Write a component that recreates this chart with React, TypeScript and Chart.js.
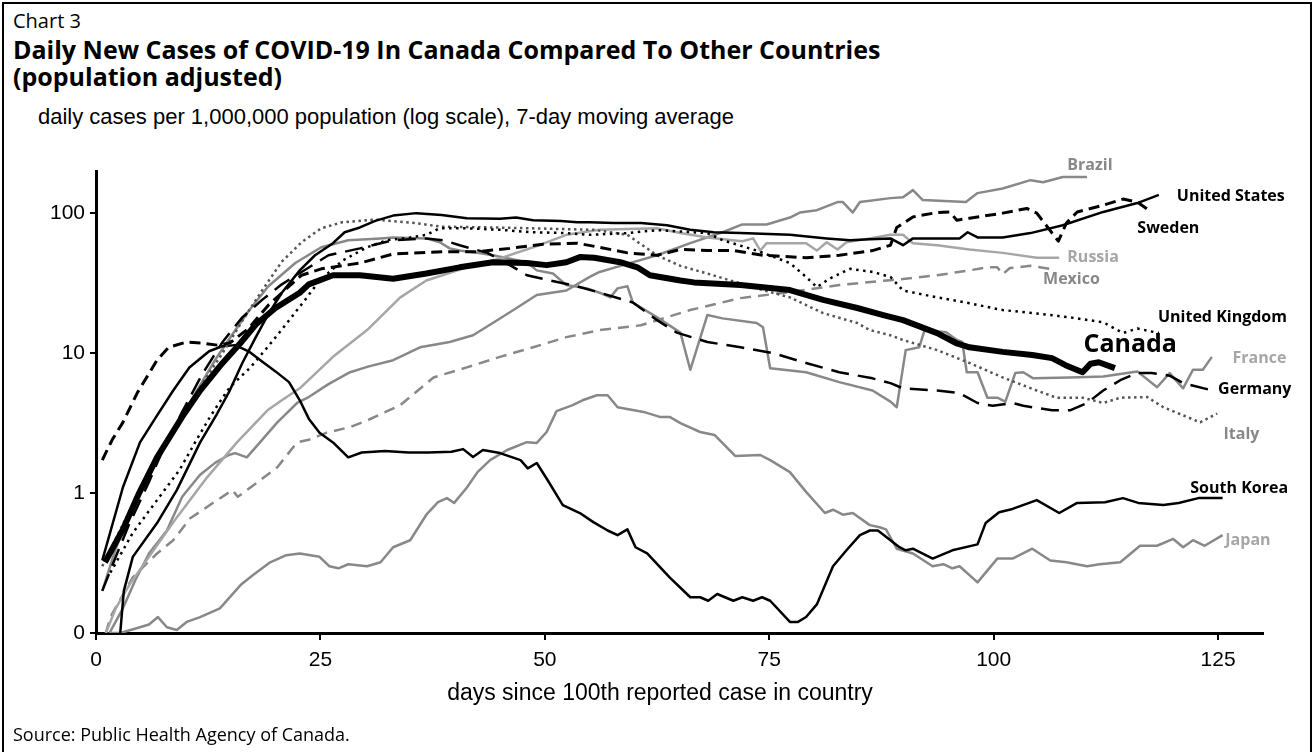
import React, { useEffect, useRef } from 'react';
import { Chart, registerables } from 'chart.js';

Chart.register(...registerables);

// ---- axes ----
const xTicks = [0, 25, 50, 75, 100, 125];
const yTicks = [0.1, 1, 10, 100];
const yTickLabels = ['0', '1', '10', '100'];

// ---- series: [days since 100th case, daily cases per 1,000,000] ----
const canada: [number, number][] = [
  [1.0, 0.32], [3.0, 0.55], [4.8, 1.0], [6.8, 1.8], [9.6, 3.5], [11.6, 5.4], [14.1, 8.5], [16.1, 11.8], [17.8, 16], [20.0, 21],
  [22.7, 27], [23.7, 31], [26.4, 36], [29.4, 36], [33.1, 34], [36.8, 37], [40.5, 41], [44.2, 44.6], [48.0, 44], [50.2, 42.5],
  [52.4, 44.6], [53.9, 48.5], [55.5, 48], [58.4, 44.6], [60.3, 41], [61.7, 36], [65.1, 33], [66.6, 32], [71.8, 30.6], [77.3, 28.2],
  [81.0, 24], [84.8, 21], [87.7, 18.7], [89.9, 17.2], [93.7, 13.9], [95.8, 11.8], [97.3, 11], [101.0, 10.2], [104.3, 9.7], [106.5, 9.2],
  [108.0, 8.2], [109.9, 7.3], [110.8, 8.4], [111.7, 8.6], [113.5, 7.8],
];

const unitedStates: [number, number][] = [
  [2.7, 0.1], [3.1, 0.2], [4.1, 0.35], [6.8, 0.61], [9.0, 1.05], [11.6, 2.3], [13.5, 3.7], [14.9, 5.4], [16.3, 8.5], [17.8, 13],
  [19.2, 19], [20.7, 27], [22.7, 39], [24.4, 50], [26.4, 61], [27.7, 73], [29.4, 79], [31.1, 88], [33.1, 96], [35.7, 100],
  [38.5, 97], [41.3, 92], [45.0, 91], [46.8, 93], [48.7, 89], [51.8, 88], [53.6, 86], [55.0, 86], [57.7, 85], [60.7, 85],
  [63.6, 82], [66.2, 76], [68.8, 73], [71.8, 72], [77.3, 70], [81.4, 66], [84.0, 64], [86.2, 65], [88.5, 66], [89.9, 59],
  [91.0, 66], [96.2, 66], [97.1, 73], [98.2, 67], [101.0, 67], [104.1, 72], [107.7, 82], [112.2, 102], [116.0, 118], [118.4, 135],
];

const southKorea: [number, number][] = [
  [0.7, 0.33], [3.0, 1.1], [4.9, 2.3], [6.7, 3.5], [8.6, 5.4], [10.4, 7.9], [12.6, 10.3], [14.1, 11.2], [15.5, 11.4], [17.0, 10.3],
  [18.5, 8.7], [20.0, 7.4], [21.5, 6.2], [22.7, 4.6], [23.7, 3.4], [24.9, 2.7], [26.4, 2.3], [28.1, 1.8], [29.6, 1.95], [32.2, 2.0],
  [34.8, 1.95], [37.0, 1.95], [39.6, 1.97], [40.9, 2.06], [42.0, 1.81], [43.1, 2.03], [45.0, 1.93], [47.3, 1.72], [48.1, 1.5], [49.1, 1.64],
  [50.3, 1.24], [52.0, 0.82], [53.9, 0.72], [55.4, 0.62], [57.0, 0.54], [58.1, 0.5], [59.2, 0.55], [60.1, 0.41], [61.4, 0.37], [63.9, 0.25],
  [66.2, 0.18], [67.3, 0.18], [68.2, 0.17], [69.2, 0.19], [71.0, 0.17], [72.0, 0.18], [73.2, 0.17], [74.2, 0.18], [75.1, 0.17], [77.3, 0.12],
  [78.2, 0.12], [79.1, 0.13], [80.3, 0.16], [82.1, 0.3], [83.6, 0.39], [85.1, 0.5], [86.2, 0.54], [87.1, 0.54], [88.5, 0.46], [89.5, 0.41],
  [90.2, 0.39], [91.0, 0.4], [93.2, 0.34], [95.4, 0.39], [98.2, 0.43], [99.1, 0.61], [100.6, 0.73], [102.1, 0.77], [104.8, 0.89], [107.3, 0.72],
  [109.3, 0.85], [112.4, 0.86], [114.4, 0.92], [116.1, 0.85], [118.9, 0.82], [120.6, 0.85], [122.8, 0.92], [125.5, 0.92],
];

const japan: [number, number][] = [
  [1.5, 0.1], [2.7, 0.1], [4.9, 0.11], [5.9, 0.115], [6.9, 0.13], [7.9, 0.11], [9.0, 0.105], [10.1, 0.12], [11.6, 0.13], [13.8, 0.15],
  [16.1, 0.22], [17.5, 0.26], [19.4, 0.32], [21.2, 0.36], [22.7, 0.37], [24.9, 0.35], [26.0, 0.3], [27.0, 0.29], [28.1, 0.31], [30.2, 0.3],
  [31.7, 0.32], [33.1, 0.41], [35.0, 0.46], [36.8, 0.7], [38.1, 0.86], [39.1, 0.92], [39.9, 0.85], [41.3, 1.09], [42.5, 1.41], [43.9, 1.72],
  [45.8, 2.03], [48.0, 2.31], [49.1, 2.28], [50.2, 2.73], [51.3, 3.85], [53.1, 4.25], [54.2, 4.6], [55.8, 5.0], [57.0, 5.0], [58.1, 4.1],
  [61.0, 3.8], [62.8, 3.5], [63.9, 3.5], [65.1, 3.16], [67.3, 2.73], [68.9, 2.6], [69.8, 2.27], [71.2, 1.84], [74.0, 1.87], [75.1, 1.72],
  [77.3, 1.41], [79.1, 1.02], [81.2, 0.72], [82.1, 0.76], [83.2, 0.7], [84.3, 0.72], [86.2, 0.59], [87.3, 0.57], [88.0, 0.55], [89.2, 0.4],
  [91.0, 0.37], [93.2, 0.3], [94.4, 0.31], [95.4, 0.29], [96.2, 0.3], [98.2, 0.23], [100.4, 0.34], [102.1, 0.34], [104.3, 0.4], [106.3, 0.33],
  [108.1, 0.32], [110.4, 0.3], [111.8, 0.31], [114.1, 0.32], [116.3, 0.42], [118.2, 0.42], [120.0, 0.47], [121.1, 0.41], [122.2, 0.46], [123.5, 0.42],
  [125.5, 0.5],
];

const brazil: [number, number][] = [
  [1.5, 0.1], [3.0, 0.15], [4.4, 0.24], [5.9, 0.37], [7.9, 0.54], [9.6, 0.94], [11.6, 1.35], [13.3, 1.65], [14.8, 1.87], [15.5, 1.93],
  [16.8, 1.8], [17.8, 2.13], [20.2, 3.2], [22.4, 4.4], [23.7, 4.85], [25.9, 6], [28.3, 7.3], [30.3, 8.0], [33.1, 8.9], [36.1, 11],
  [39.4, 12], [42.0, 13.4], [44.2, 16.4], [46.5, 20.3], [49.1, 26], [52.4, 28], [55.0, 35], [56.1, 38], [58.7, 42.5], [62.5, 50],
  [66.2, 61], [69.8, 73], [72.0, 83], [74.7, 83], [77.3, 93], [78.4, 101], [80.3, 105], [82.6, 120], [83.2, 120], [84.3, 101],
  [85.1, 120], [88.5, 128], [89.9, 130], [91.0, 146], [92.1, 124], [96.9, 120], [98.2, 139], [101.0, 150], [104.1, 172], [105.5, 166],
  [107.7, 181], [110.4, 181],
];

const russia: [number, number][] = [
  [1.1, 0.1], [2.2, 0.15], [3.7, 0.22], [5.9, 0.35], [9.0, 0.67], [12.4, 1.3], [15.7, 2.3], [19.1, 3.9], [20.7, 4.6], [22.7, 5.6],
  [26.4, 9.4], [30.2, 14.6], [33.9, 25], [36.8, 33], [41.3, 41], [45.0, 47.5], [48.7, 57], [52.4, 70], [56.1, 76], [59.2, 77],
  [62.5, 78], [65.1, 72], [68.1, 67], [72.0, 63], [73.2, 66], [74.0, 54], [74.7, 61], [79.1, 61], [80.3, 54], [81.4, 62],
  [82.6, 55], [83.6, 62], [86.2, 66], [88.5, 70], [89.9, 70], [91.0, 61], [93.7, 59], [97.3, 55], [101.0, 52], [104.8, 48],
  [107.3, 48],
];

const mexico: [number, number][] = [
  [1.1, 0.1], [1.6, 0.13], [4.1, 0.25], [6.8, 0.37], [8.6, 0.46], [10.5, 0.66], [13.5, 0.89], [15.2, 1.05], [15.8, 0.94], [17.9, 1.18],
  [20.2, 1.53], [22.4, 2.3], [23.7, 2.4], [25.7, 2.7], [28.3, 2.96], [30.2, 3.3], [33.9, 4.25], [37.6, 6.7], [41.3, 7.9], [45.0, 9.4],
  [48.7, 11], [52.4, 13], [56.1, 14.6], [60.7, 15.8], [66.2, 20.3], [71.8, 24.7], [77.3, 27.3], [82.8, 30.6], [88.5, 33.2], [89.9, 33.8],
  [93.7, 36], [97.3, 39], [99.3, 41], [100.4, 41], [101.0, 36.6], [101.8, 40.5], [104.1, 42], [106.3, 40],
];

const germany: [number, number][] = [
  [0.7, 0.2], [2.2, 0.35], [3.7, 0.6], [5.9, 1.2], [7.4, 2], [9.6, 3.8], [11.8, 7], [14.1, 12], [16.3, 18], [18.5, 24],
  [20.7, 31], [22.9, 38], [25.9, 50], [29.4, 56], [33.1, 64], [36.8, 66], [38.7, 64], [40.5, 59], [43.6, 52], [46.1, 42.5],
  [48.0, 36], [50.6, 33], [53.6, 30], [56.1, 27], [59.8, 23], [62.5, 17.2], [64.7, 14], [68.1, 12], [71.8, 11], [75.4, 10],
  [79.1, 8.5], [82.8, 7.3], [86.5, 6.6], [88.5, 6.1], [89.9, 5.6], [93.7, 5.4], [96.1, 5.2], [98.2, 4.4], [99.9, 4.2], [102.1, 4.4],
  [103.3, 4.2], [106.5, 3.9], [108.5, 3.9], [110.4, 4.4], [112.2, 5.4], [114.1, 6.4], [116.0, 7.2], [117.6, 7.2], [119.6, 6.9], [121.1, 6.1],
  [123.9, 5.5],
];

const italy: [number, number][] = [
  [0.7, 0.3], [3.0, 0.6], [4.8, 1.0], [6.7, 1.8], [9.6, 3.5], [11.8, 6], [14.1, 10], [16.3, 17], [18.5, 28], [20.7, 45],
  [22.9, 62], [25.1, 78], [27.4, 86], [31.1, 90], [35.5, 85], [38.5, 80], [44.4, 79], [51.8, 77], [55.5, 76], [59.2, 70],
  [60.7, 60], [62.5, 50], [65.1, 42], [68.1, 37], [73.6, 29], [77.3, 25], [81.0, 19.3], [84.8, 16.4], [86.2, 14.6], [88.5, 13.4],
  [89.9, 12.4], [93.7, 10.5], [97.3, 8.5], [101.0, 6.7], [104.8, 5.4], [107.0, 4.8], [109.9, 4.8], [112.2, 4.4], [114.1, 4.8], [117.1, 4.85],
  [118.9, 4.1], [120.6, 3.7], [123.0, 3.2], [124.9, 3.7],
];

const unitedKingdom: [number, number][] = [
  [1.6, 0.27], [4.1, 0.52], [6.8, 0.89], [9.3, 1.46], [11.2, 2.4], [12.7, 3.5], [14.1, 4.8], [14.9, 5.7], [17.2, 7.9], [19.1, 11],
  [20.9, 15.3], [22.4, 20.3], [23.5, 25], [24.9, 33], [27.5, 46], [30.2, 57], [32.4, 64], [35.0, 67], [36.8, 70], [38.3, 78],
  [41.3, 78], [45.0, 76], [48.7, 73], [52.4, 72], [55.0, 70], [59.2, 72], [62.5, 75.6], [65.1, 74], [68.1, 72], [69.8, 64],
  [73.6, 54], [77.3, 44], [79.1, 35], [80.3, 29.6], [81.7, 34], [84.0, 40], [86.5, 38], [88.5, 35], [89.9, 28], [93.7, 25],
  [97.3, 22.7], [101.0, 20.3], [104.8, 19.2], [108.5, 18], [112.2, 16.6], [114.4, 13.9], [116.0, 15], [118.4, 13.9],
];

const sweden: [number, number][] = [
  [0.7, 1.72], [1.8, 2.4], [3.0, 3.2], [4.6, 5.2], [6.8, 8.9], [8.1, 11], [10.1, 12], [11.8, 11.8], [13.5, 11.4], [14.9, 11.8],
  [17.0, 15], [19.2, 22], [21.5, 30], [22.9, 36], [25.1, 40], [29.4, 44], [33.1, 51], [38.7, 53], [42.5, 53], [46.1, 56],
  [49.8, 60], [53.6, 61], [56.1, 57], [59.2, 52], [62.5, 50], [65.1, 55], [68.1, 54], [71.0, 54], [74.3, 50], [79.1, 48],
  [82.8, 50], [86.5, 54], [88.5, 59], [89.2, 79], [91.0, 94], [93.7, 101], [95.1, 102], [95.9, 89], [97.3, 92], [101.0, 100],
  [103.7, 108], [104.8, 100], [106.3, 75], [107.2, 63], [108.1, 85], [109.3, 102], [112.2, 114], [114.4, 126], [116.0, 120], [117.1, 107],
];

const france: [number, number][] = [
  [0.7, 0.2], [2.2, 0.4], [3.7, 0.7], [5.9, 1.4], [7.4, 2.1], [9.6, 3.6], [11.1, 5.2], [13.3, 9], [14.8, 12.5], [17.0, 20],
  [19.2, 30], [22.2, 44], [25.1, 57], [28.1, 64], [31.7, 66], [33.1, 67], [36.8, 66], [38.3, 62], [39.4, 56], [40.5, 54],
  [42.5, 52], [44.2, 50], [48.0, 44.6], [49.1, 39], [50.9, 37], [52.4, 30.6], [54.7, 29], [56.1, 27], [57.3, 25], [58.1, 29],
  [59.2, 30], [59.8, 23], [62.5, 18], [65.1, 14], [66.2, 7.6], [68.1, 18.7], [69.8, 17.7], [73.6, 16.4], [74.3, 15.3], [75.1, 7.8],
  [79.1, 7.3], [82.8, 6.2], [86.5, 5.4], [88.5, 4.5], [89.2, 4.1], [90.2, 10.5], [91.7, 11], [92.3, 14.6], [94.7, 14.1], [95.9, 12.4],
  [96.5, 12], [97.0, 7.3], [98.2, 7.3], [99.3, 4.8], [100.4, 4.8], [101.3, 4.5], [102.4, 7.2], [103.3, 7.3], [104.4, 6.6], [108.5, 6.7],
  [112.2, 6.8], [116.0, 7.4], [118.2, 5.7], [119.6, 7.2], [121.1, 5.6], [122.2, 7.6], [123.3, 7.6], [124.3, 9.4],
];

// ---- end-of-line labels (anchor in data units) ----
const labelNames = ['Brazil', 'United States', 'Sweden', 'Russia', 'Mexico', 'United Kingdom', 'Canada', 'France', 'Germany', 'Italy', 'South Korea', 'Japan'];
const labelDays = [108.2, 120.4, 116.0, 108.2, 105.5, 118.3, 110.0, 126.6, 125.0, 125.6, 121.9, 125.8];
const labelValues = [220, 132, 78, 48.5, 33.8, 18.1, 11.4, 9.2, 5.5, 2.64, 1.07, 0.46];

// ---- styles ----
const GRAY = '#888888';
const LIGHT = '#a6a6a6';
const labelColors = [GRAY, '#000', '#000', LIGHT, GRAY, '#000', '#000', LIGHT, '#000', GRAY, '#000', LIGHT];

const seriesStyles = [
  { name: 'Canada', data: canada, color: '#000', width: 6, dash: [] as number[], order: 0 },
  { name: 'United States', data: unitedStates, color: '#000', width: 2.5, dash: [], order: 1 },
  { name: 'Sweden', data: sweden, color: '#000', width: 3, dash: [11, 6], order: 2 },
  { name: 'Germany', data: germany, color: '#000', width: 2.5, dash: [18, 9], order: 3 },
  { name: 'United Kingdom', data: unitedKingdom, color: '#000', width: 2.5, dash: [2.5, 4.5], order: 4 },
  { name: 'Italy', data: italy, color: '#555555', width: 2.5, dash: [2.5, 3.5], order: 5 },
  { name: 'South Korea', data: southKorea, color: '#000', width: 2.5, dash: [], order: 6 },
  { name: 'Russia', data: russia, color: LIGHT, width: 2.5, dash: [], order: 7 },
  { name: 'Brazil', data: brazil, color: GRAY, width: 2.5, dash: [], order: 8 },
  { name: 'France', data: france, color: GRAY, width: 2.5, dash: [], order: 9 },
  { name: 'Mexico', data: mexico, color: GRAY, width: 2.5, dash: [11, 7], order: 10 },
  { name: 'Japan', data: japan, color: GRAY, width: 2.5, dash: [], order: 11 },
];

const labelPlugin = {
  id: 'countryLabels',
  afterDatasetsDraw(chart: any) {
    const { ctx, scales } = chart;
    const xs = scales.x;
    const ys = scales.y;
    ctx.save();
    ctx.textAlign = 'left';
    ctx.textBaseline = 'middle';
    labelNames.forEach((name, i) => {
      const big = name === 'Canada';
      ctx.font = `bold ${big ? 25 : 16}px "Open Sans"`;
      ctx.fillStyle = labelColors[i];
      ctx.fillText(name, xs.getPixelForValue(labelDays[i]), ys.getPixelForValue(labelValues[i]));
    });
    ctx.restore();
  },
};

const tickFont = { family: '"Liberation Sans", Arial, sans-serif', size: 21 };

export default function App() {
  const ref = useRef<HTMLCanvasElement>(null);

  useEffect(() => {
    if (!ref.current) return;
    const chart = new Chart(ref.current, {
      type: 'line',
      data: {
        datasets: seriesStyles.map((s) => ({
          label: s.name,
          data: s.data.map(([x, y]) => ({ x, y })),
          borderColor: s.color,
          backgroundColor: s.color,
          borderWidth: s.width,
          borderDash: s.dash,
          pointRadius: 0,
          tension: 0,
          fill: false,
          order: s.order,
          borderJoinStyle: 'round' as const,
        })),
      },
      options: {
        responsive: false,
        maintainAspectRatio: false,
        animation: false,
        events: [],
        layout: { padding: { left: 0, right: 51, top: 171, bottom: 0 } },
        plugins: {
          legend: { display: false },
          tooltip: { enabled: false },
          title: { display: false },
        },
        scales: {
          x: {
            type: 'linear',
            min: 0,
            max: 130,
            afterBuildTicks: (s: any) => {
              s.ticks = xTicks.map((v) => ({ value: v }));
            },
            afterFit: (s: any) => {
              s.height = 119;
            },
            ticks: {
              font: tickFont,
              color: '#000',
              padding: 8,
              maxRotation: 0,
              autoSkip: false,
              callback: (v: any) => String(v),
            },
            grid: { drawOnChartArea: false, drawTicks: true, tickLength: 7, color: '#000', lineWidth: 2 },
            border: { display: true, color: '#000', width: 3 },
          },
          y: {
            type: 'logarithmic',
            min: 0.1,
            max: 200,
            afterBuildTicks: (s: any) => {
              s.ticks = yTicks.map((v) => ({ value: v }));
            },
            afterFit: (s: any) => {
              s.width = 96;
            },
            ticks: {
              font: tickFont,
              color: '#000',
              padding: 5,
              autoSkip: false,
              callback: (v: any) => {
                const i = yTicks.indexOf(Number(v));
                return i >= 0 ? yTickLabels[i] : '';
              },
            },
            grid: { drawOnChartArea: false, drawTicks: true, tickLength: 6, color: '#000', lineWidth: 2 },
            border: { display: true, color: '#000', width: 3 },
          },
        },
      },
      plugins: [labelPlugin],
    } as any);
    return () => chart.destroy();
  }, []);

  const open = '"Open Sans", sans-serif';
  const arial = '"Liberation Sans", Arial, sans-serif';

  return (
    <div style={{ position: 'absolute', left: 0, top: 0, width: 1314, height: 752, overflow: 'hidden', background: '#fff' }}>
      <div style={{ position: 'absolute', left: 2, top: 2, width: 1310, height: 800, border: '2px solid #000', boxSizing: 'border-box' }} />
      <div style={{ position: 'absolute', left: 13, top: 11, fontFamily: open, fontSize: 20, lineHeight: '20px', whiteSpace: 'nowrap' }}>Chart 3</div>
      <div style={{ position: 'absolute', left: 13, top: 37, fontFamily: open, fontSize: 25, fontWeight: 700, lineHeight: '25px', whiteSpace: 'nowrap' }}>
        Daily New Cases of COVID-19 In Canada Compared To Other Countries
      </div>
      <div style={{ position: 'absolute', left: 13, top: 64, fontFamily: open, fontSize: 25, fontWeight: 700, lineHeight: '25px', whiteSpace: 'nowrap' }}>
        (population adjusted)
      </div>
      <div style={{ position: 'absolute', left: 38, top: 106, fontFamily: arial, fontSize: 22, lineHeight: '22px', whiteSpace: 'nowrap' }}>
        daily cases per 1,000,000 population (log scale), 7-day moving average
      </div>
      <canvas ref={ref} width={1314} height={752} style={{ position: 'absolute', left: 0, top: 0, width: 1314, height: 752 }} />
      <div style={{ position: 'absolute', left: 660, top: 681, transform: 'translateX(-50%)', fontFamily: arial, fontSize: 23, lineHeight: '23px', whiteSpace: 'nowrap' }}>
        days since 100th reported case in country
      </div>
      <div style={{ position: 'absolute', left: 13, top: 725, fontFamily: open, fontSize: 18, lineHeight: '18px', whiteSpace: 'nowrap' }}>
        Source: Public Health Agency of Canada.
      </div>
    </div>
  );
}
